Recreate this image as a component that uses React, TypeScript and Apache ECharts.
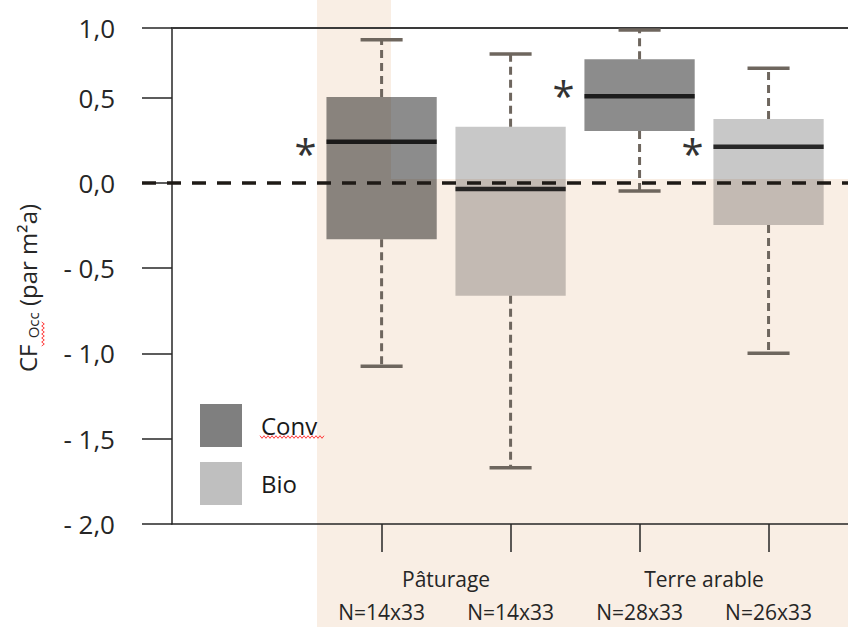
import React, { useEffect, useRef } from "react";
import * as echarts from "echarts";

// ---- data ----
const groupNames = ["Pâturage", "Terre arable"];
const groupPositions = [1.5, 3.5];
const boxSeries = ["Conv", "Bio", "Conv", "Bio"];
const boxPositions = [1, 2, 3, 4];
const sampleLabels = ["N=14x33", "N=14x33", "N=28x33", "N=26x33"];
const whiskerLow = [-1.075, -1.67, -0.047, -0.999];
const quartile1 = [-0.33, -0.661, 0.305, -0.246];
const medians = [0.242, -0.035, 0.508, 0.213];
const quartile3 = [0.504, 0.33, 0.726, 0.375];
const whiskerHigh = [0.84, 0.757, 0.897, 0.673];
const asteriskAt = [0.205, null, 0.545, 0.205];
const yMin = -2;
const yTop = 0.909; // top of the axis, labelled "1,0"
const yTopLabel = "1,0";
const yTickValues = [-2, -1.5, -1, -0.5, 0, 0.5, yTop];
const xMin = -0.625;
const xMax = 4.616;

const FONT = "Open Sans";
const DARK = "#262626";
const WHISKER = "#6e665e";

function fmtY(v: number) {
  if (Math.abs(v - yTop) < 1e-6) return yTopLabel;
  return (v < 0 ? "- " : "") + Math.abs(v).toFixed(1).replace(".", ",");
}

function wave(x0: number, y0: number, len: number, vertical: boolean) {
  const pts: number[][] = [];
  const step = 2;
  for (let i = 0, k = 0; i <= len; i += step, k++) {
    const off = k % 2 === 0 ? -1.3 : 1.3;
    pts.push(vertical ? [x0 + off, y0 + i] : [x0 + i, y0 + off]);
  }
  return pts;
}

function buildData(name: string) {
  const out: number[][] = [];
  boxSeries.forEach((s, i) => {
    if (s === name) {
      out.push([boxPositions[i], whiskerLow[i], quartile1[i], medians[i], quartile3[i], whiskerHigh[i], i]);
    }
  });
  return out;
}

function renderBox(fill: string) {
  return (params: any, api: any) => {
    const x = api.value(0);
    const low = api.coord([x, api.value(1)]);
    const q1 = api.coord([x, api.value(2)]);
    const med = api.coord([x, api.value(3)]);
    const q3 = api.coord([x, api.value(4)]);
    const high = api.coord([x, api.value(5)]);
    const idx = api.value(6);
    const unit = api.size([1, 0])[0];
    const boxW = unit * 0.855;
    const capW = unit * 0.326;
    const cx = low[0];
    const children: any[] = [
      {
        type: "rect",
        shape: { x: cx - boxW / 2, y: q3[1], width: boxW, height: q1[1] - q3[1] },
        style: { fill },
      },
      {
        type: "line",
        shape: { x1: cx, y1: q3[1], x2: cx, y2: high[1] },
        style: { stroke: WHISKER, lineWidth: 3, lineDash: [8, 5] },
      },
      {
        type: "line",
        shape: { x1: cx, y1: q1[1], x2: cx, y2: low[1] },
        style: { stroke: WHISKER, lineWidth: 3, lineDash: [8, 5] },
      },
      {
        type: "line",
        shape: { x1: cx - capW / 2, y1: high[1], x2: cx + capW / 2, y2: high[1] },
        style: { stroke: WHISKER, lineWidth: 3.5 },
      },
      {
        type: "line",
        shape: { x1: cx - capW / 2, y1: low[1], x2: cx + capW / 2, y2: low[1] },
        style: { stroke: WHISKER, lineWidth: 3.5 },
      },
      {
        type: "line",
        shape: { x1: cx - boxW / 2, y1: med[1], x2: cx + boxW / 2, y2: med[1] },
        style: { stroke: "rgba(0,0,0,0.8)", lineWidth: 4.5 },
      },
    ];
    const a = asteriskAt[idx];
    if (a !== null && a !== undefined) {
      const p = api.coord([x, a]);
      children.push({
        type: "text",
        x: cx - boxW / 2 - 21,
        y: p[1] + 5,
        style: {
          text: "*",
          fontSize: 40,
          fontFamily: FONT,
          fill: "#333333",
          align: "center",
          verticalAlign: "middle",
        },
      });
    }
    return { type: "group", children };
  };
}

export default function App() {
  const ref = useRef<HTMLDivElement>(null);
  useEffect(() => {
    if (!ref.current) return;
    const chart = echarts.init(ref.current, null, { renderer: "svg" });
    const beige = "#f9eee4";
    const option: any = {
      animation: false,
      backgroundColor: "#ffffff",
      textStyle: { fontFamily: FONT },
      grid: { left: 172, right: 0, top: 28, bottom: 103, containLabel: false },
      legend: {
        orient: "vertical",
        left: 200,
        top: 404,
        itemWidth: 42,
        itemHeight: 43,
        itemGap: 15,
        icon: "rect",
        padding: 0,
        selectedMode: false,
        data: [
          { name: "Conv", itemStyle: { color: "#7f7f7f" } },
          { name: "Bio", itemStyle: { color: "#bfbfbf" } },
        ],
        textStyle: { fontSize: 24, color: "#1a1a1a", fontFamily: FONT, padding: [0, 0, 0, 14] },
      },
      graphic: [
        { type: "rect", z: -100, shape: { x: 317, y: 0, width: 74, height: 627 }, style: { fill: beige } },
        { type: "rect", z: -100, shape: { x: 317, y: 179, width: 531, height: 448 }, style: { fill: beige } },
        {
          type: "text",
          x: 27,
          y: 288,
          rotation: Math.PI / 2,
          style: {
            text: "{m|CF }{s|Occ}{m| (par m²a)}",
            align: "center",
            verticalAlign: "middle",
            rich: {
              m: { fontSize: 24, fontFamily: FONT, fill: "#262626" },
              s: { fontSize: 15, fontFamily: FONT, fill: "#262626", padding: [12, 0, 0, 0] },
            },
          },
        },
        {
          type: "polyline",
          shape: { points: wave(43, 322, 25, true) },
          style: { stroke: "#ff3b3b", lineWidth: 1, fill: null },
        },
        {
          type: "polyline",
          shape: { points: wave(260, 437, 64, false) },
          style: { stroke: "#ff3b3b", lineWidth: 1, fill: null },
        },
      ],
      xAxis: [
        {
          type: "value",
          min: xMin,
          max: xMax,
          position: "bottom",
          axisLine: { show: true, onZero: false, lineStyle: { color: DARK, width: 1.5 } },
          axisTick: { show: true, length: 28, customValues: boxPositions, lineStyle: { color: DARK, width: 1.5 } },
          axisLabel: {
            customValues: groupPositions,
            formatter: (v: number) => groupNames[groupPositions.indexOf(v)] ?? "",
            margin: 44,
            fontSize: 21,
            color: DARK,
            fontFamily: FONT,
          },
          splitLine: { show: false },
        },
        {
          type: "value",
          min: xMin,
          max: xMax,
          position: "bottom",
          axisLine: { show: false, onZero: false },
          axisTick: { show: false },
          axisLabel: {
            customValues: boxPositions,
            formatter: (v: number) => sampleLabels[boxPositions.indexOf(v)] ?? "",
            margin: 77,
            fontSize: 21,
            color: DARK,
            fontFamily: FONT,
          },
          splitLine: { show: false },
        },
        {
          type: "value",
          min: xMin,
          max: xMax,
          position: "top",
          axisLine: { show: true, onZero: false, lineStyle: { color: "#3a3a3a", width: 2 } },
          axisTick: { show: false },
          axisLabel: { show: false },
          splitLine: { show: false },
        },
      ],
      yAxis: {
        type: "value",
        min: yMin,
        max: yTop,
        interval: 0.5,
        axisLine: { show: true, onZero: false, lineStyle: { color: DARK, width: 1.5 } },
        axisTick: { show: true, length: 30, customValues: yTickValues, lineStyle: { color: DARK, width: 1.5 } },
        axisLabel: {
          customValues: yTickValues,
          formatter: fmtY,
          margin: 57,
          fontSize: 26,
          color: DARK,
          fontFamily: FONT,
        },
        splitLine: { show: false },
      },
      series: [
        {
          name: "Conv",
          type: "custom",
          xAxisIndex: 0,
          yAxisIndex: 0,
          clip: false,
          z: 2,
          itemStyle: { color: "#7f7f7f" },
          data: buildData("Conv"),
          renderItem: renderBox("rgba(0,0,0,0.45)"),
        },
        {
          name: "Bio",
          type: "custom",
          xAxisIndex: 0,
          yAxisIndex: 0,
          clip: false,
          z: 2,
          itemStyle: { color: "#bfbfbf" },
          data: buildData("Bio"),
          renderItem: renderBox("rgba(0,0,0,0.215)"),
        },
        {
          name: "zero",
          type: "custom",
          xAxisIndex: 0,
          yAxisIndex: 0,
          clip: false,
          z: 5,
          silent: true,
          data: [[0, 0]],
          renderItem: (params: any, api: any) => {
            const p = api.coord([0, api.value(1)]);
            const cs = params.coordSys;
            return {
              type: "line",
              shape: { x1: cs.x - 30, y1: p[1], x2: cs.x + cs.width, y2: p[1] },
              style: { stroke: "#1e1a16", lineWidth: 3.5, lineDash: [14, 11] },
            };
          },
        },
      ],
    };
    chart.setOption(option);
    return () => chart.dispose();
  }, []);
  return (
    <div
      ref={ref}
      style={{ position: "fixed", left: 0, top: 0, width: 848, height: 627 }}
    />
  );
}
